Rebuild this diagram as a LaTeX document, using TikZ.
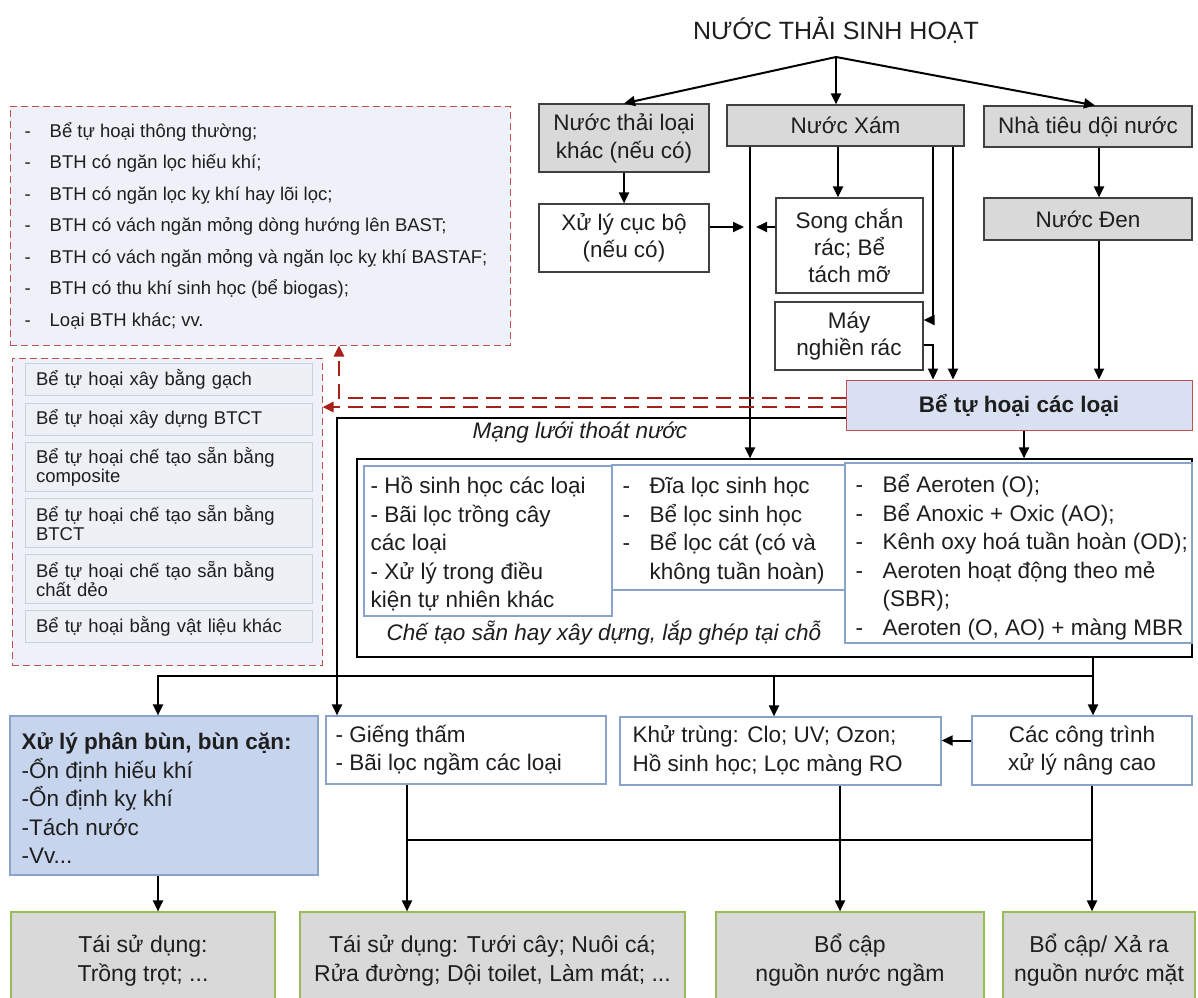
\documentclass[tikz,border=0pt]{standalone}
\usepackage{fontspec}
\setmainfont{Liberation Sans}
\usetikzlibrary{arrows.meta}
\definecolor{txt}{HTML}{1E1E1E}
\definecolor{grayfill}{HTML}{D9D9D9}
\definecolor{grayline}{HTML}{404040}
\definecolor{greenline}{HTML}{9BBB59}
\definecolor{blueline}{HTML}{8AA3C8}
\definecolor{lightblue}{HTML}{D8E0F1}
\definecolor{sludgeblue}{HTML}{C7D4ED}
\definecolor{redline}{HTML}{C0504D}
\definecolor{redarrow}{HTML}{A8201A}
\definecolor{ulfill}{HTML}{EEF1F7}
\definecolor{itemfill}{HTML}{EDF0F5}
\definecolor{itemline}{HTML}{CBD1DA}
\newcommand\fsz[2]{\fontsize{#1}{#2}\selectfont}
\newcommand\dashitem[2]{\makebox[#1][l]{-}#2}
\begin{document}
\begin{tikzpicture}[x=1pt,y=-1pt,
  every node/.style={text=txt, inner sep=0pt},
  arr/.style={draw=black, line width=2pt, -{Triangle[length=11pt,width=10pt]}},
  conn/.style={draw=black, line width=2pt},
  redarr/.style={draw=redarrow, line width=2.5pt, dash pattern=on 15pt off 8pt, -{Triangle[length=11pt,width=10pt]}},
  gbox/.style={draw=grayline, fill=grayfill, line width=1.2pt, align=center, font=\fsz{22.5}{28}},
  wbox/.style={draw=grayline, fill=white, line width=1.2pt, align=center, font=\fsz{22.5}{27}},
  bbox/.style={draw=blueline, fill=white, line width=1.2pt},
  listtext/.style={align=left, font=\fsz{22.5}{28.5}},
  outbox/.style={draw=greenline, fill=grayfill, line width=1.2pt, align=center, font=\fsz{23}{29}},
  dbox/.style={draw=redline, fill=ulfill, line width=1pt, dash pattern=on 7pt off 4pt},
  itembox/.style={draw=itemline, fill=itemfill, line width=0.8pt, align=left, inner xsep=11pt, text width=265pt, font=\fsz{18.5}{18.5}},
]
\path[use as bounding box] (0,0) rectangle (1198,997);
\clip (0,0) rectangle (1198,997);
\fill[white] (0,0) rectangle (1198,997);

% ---------- top ----------
\node[font=\fsz{25}{30}] (title) at (836,30) {NƯỚC THẢI SINH HOẠT};
\coordinate (split) at (836,57);
\node[gbox, minimum width=170pt, minimum height=68pt] (A) at (624,138) {Nước thải loại\\khác (nếu có)};
\node[gbox, minimum width=237pt, minimum height=41pt] (X) at (845.5,125.5) {Nước Xám};
\node[gbox, minimum width=208pt, minimum height=41pt] (N) at (1088,126.5) {Nhà tiêu dội nước};
\node[wbox, minimum width=170pt, minimum height=68pt] (C) at (624,238) {Xử lý cục bộ\\(nếu có)};
\node[wbox, minimum width=147pt, minimum height=95pt] (S) at (849.5,245.5) {Song chắn\\rác; Bể\\tách mỡ};
\node[wbox, minimum width=148pt, minimum height=68pt] (M) at (849,336) {Máy\\nghiền rác};
\node[gbox, minimum width=208pt, minimum height=42pt] (D) at (1088,219) {Nước Đen};
\node[draw=redline, fill=lightblue, line width=1pt, minimum width=346pt, minimum height=50pt, font=\bfseries\fsz{22.5}{27}] (T) at (1019,405) {Bể tự hoại các loại};

% ---------- left dashed boxes ----------
\node[dbox, minimum width=500pt, minimum height=239pt] (UL) at (260,225.5) {};
\node[anchor=west, align=left, font=\fsz{18.5}{31.5}] (ULt) at ([xshift=15pt]UL.west) {%
\dashitem{25pt}{Bể tự hoại thông thường;}\\
\dashitem{25pt}{BTH có ngăn lọc hiếu khí;}\\
\dashitem{25pt}{BTH có ngăn lọc kỵ khí hay lõi lọc;}\\
\dashitem{25pt}{BTH có vách ngăn mỏng dòng hướng lên BAST;}\\
\dashitem{25pt}{BTH có vách ngăn mỏng và ngăn lọc kỵ khí BASTAF;}\\
\dashitem{25pt}{BTH có thu khí sinh học (bể biogas);}\\
\dashitem{25pt}{Loại BTH khác; vv.}};

\node[dbox, minimum width=310pt, minimum height=307pt] (LL) at (167,511.5) {};
\node[itembox, minimum height=32pt] (L1) at (168.5,379) {Bể tự hoại xây bằng gạch};
\node[itembox, minimum height=32pt] (L2) at (168.5,419) {Bể tự hoại xây dựng BTCT};
\node[itembox, minimum height=49pt] (L3) at (168.5,467) {Bể tự hoại chế tạo sẵn bằng\\composite};
\node[itembox, minimum height=49pt] (L4) at (168.5,523) {Bể tự hoại chế tạo sẵn bằng\\BTCT};
\node[itembox, minimum height=49pt] (L5) at (168.5,579) {Bể tự hoại chế tạo sẵn bằng\\chất dẻo};
\node[itembox, minimum height=32pt] (L6) at (168.5,626) {Bể tự hoại bằng vật liệu khác};

% ---------- middle container ----------
\node[font=\itshape\fsz{22.5}{27}] (net) at (580,433) {Mạng lưới thoát nước};
\node[draw=black, fill=white, line width=1.2pt, minimum width=835pt, minimum height=198pt] (K) at (774.5,558) {};
\node[bbox, minimum width=248pt, minimum height=150pt] (K1) at (488,541) {};
\node[bbox, minimum width=233pt, minimum height=125pt] (K2) at (728.5,527.5) {};
\node[bbox, minimum width=347pt, minimum height=180pt] (K3) at (1018.5,553) {};
\node[listtext, anchor=west] (K1t) at ([xshift=7pt,yshift=-3pt]K1.west) {%
- Hồ sinh học các loại\\- Bãi lọc trồng cây\\các loại\\- Xử lý trong điều\\kiện tự nhiên khác};
\node[listtext, anchor=west] (K2t) at ([xshift=11pt,yshift=-3pt]K2.west) {%
\dashitem{27pt}{Đĩa lọc sinh học}\\\dashitem{27pt}{Bể lọc sinh học}\\\dashitem{27pt}{Bể lọc cát (có và}\\\hspace*{27pt}không tuần hoàn)};
\node[listtext, anchor=west] (K3t) at ([xshift=11pt,yshift=-4pt]K3.west) {%
\dashitem{27pt}{Bể Aeroten (O);}\\\dashitem{27pt}{Bể Anoxic + Oxic (AO);}\\\dashitem{27pt}{Kênh oxy hoá tuần hoàn (OD);}\\\dashitem{27pt}{Aeroten hoạt động theo mẻ}\\\hspace*{27pt}(SBR);\\\dashitem{27pt}{Aeroten (O, AO) + màng MBR}};
\node[font=\itshape\fsz{22.5}{27}] (cap) at (604,633) {Chế tạo sẵn hay xây dựng, lắp ghép tại chỗ};

% ---------- lower ----------
\node[draw=blueline, fill=sludgeblue, line width=1.2pt, minimum width=308pt, minimum height=159pt] (P) at (164,795.5) {};
\node[listtext, anchor=west] (Pt) at ([xshift=12pt,yshift=-3pt]P.west) {%
\textbf{Xử lý phân bùn, bùn cặn:}\\-Ổn định hiếu khí\\-Ổn định kỵ khí\\-Tách nước\\-Vv...};
\node[bbox, minimum width=280pt, minimum height=68pt] (G) at (466,750) {};
\node[listtext, anchor=west] (Gt) at ([xshift=10pt]G.west) {- Giếng thấm\\- Bãi lọc ngầm các loại};
\node[bbox, minimum width=321pt, minimum height=68pt] (KT) at (780.5,751) {};
\node[listtext, anchor=west] (KTt) at ([xshift=13pt]KT.west) {Khử trùng: Clo; UV; Ozon;\\Hồ sinh học; Lọc màng RO};
\node[bbox, minimum width=220pt, minimum height=69pt, align=center, font=\fsz{22.5}{28.5}] (CT) at (1082,750.5) {Các công trình\\xử lý nâng cao};

\node[outbox, minimum width=264pt, minimum height=97pt] (B1) at (143,960.5) {Tái sử dụng:\\Trồng trọt; ...};
\node[outbox, minimum width=385pt, minimum height=97pt] (B2) at (492.5,960.5) {Tái sử dụng: Tưới cây; Nuôi cá;\\Rửa đường; Dội toilet, Làm mát; ...};
\node[outbox, minimum width=268pt, minimum height=97pt] (B3) at (850,960.5) {Bổ cập\\nguồn nước ngầm};
\node[outbox, minimum width=192pt, minimum height=97pt] (B4) at (1099,960.5) {Bổ cập/ Xả ra\\nguồn nước mặt};

% ---------- connectors: top ----------
\draw[arr] (split) -- (A.north);
\draw[arr] (split) -- (split |- X.north);
\draw[arr] (split) -- ([xshift=7pt]N.north);
\draw[arr] (A) -- (C);
\coordinate (c1099) at (1099,0);
\draw[arr] (N.south -| c1099) -- (D.north -| c1099);
\draw[arr] (D.south -| c1099) -- (T.north -| c1099);
\coordinate (c750) at (750,0);
\draw[arr] (X.south -| c750) -- (K.north -| c750);
\coordinate (tipL) at (744,227);
\coordinate (tipR) at (756,227);
\draw[arr] (C.east |- tipL) -- (tipL);
\draw[arr] (S.west |- tipR) -- (tipR);
\coordinate (c838) at (838,0);
\draw[arr] (X.south -| c838) -- (S.north -| c838);
\coordinate (c934) at (933,0);
\coordinate (c953) at (953,0);
\draw[arr] (X.south -| c934) |- ([yshift=16pt]M.east);
\draw[arr] ([yshift=-9pt]M.east) -| (T.north -| c934);
\draw[arr] (X.south -| c953) -- (T.north -| c953);
\coordinate (c1024) at (1024,0);
\draw[arr] (T.south -| c1024) -- (K.north -| c1024);

% red dashed and network line
\coordinate (c339) at (339,0);
\coordinate (r1) at ([yshift=7pt]T.west);
\coordinate (r2) at ([yshift=-2pt]T.west);
\coordinate (b1) at ([yshift=-13pt]T.west);
\draw[redarr] (r1) -| (UL.south -| c339);
\draw[redarr] (r2) -- (LL.east |- r2);
\coordinate (c337) at (337,0);
\draw[arr] (b1) -| (G.north -| c337);

% ---------- connectors: bottom ----------
\coordinate (bus) at (0,676);
\coordinate (c1093) at (1093,0);
\coordinate (c774) at (774,0);
\coordinate (c158) at (158,0);
\draw[arr] (K.south -| c1093) -- (CT.north -| c1093);
\draw[arr] (bus -| c1093) -| (P.north -| c158);
\draw[arr] (bus -| c774) -- (KT.north -| c774);
\coordinate (ctin) at ([yshift=10pt]CT.west);
\draw[arr] (ctin) -- (KT.east |- ctin);
\coordinate (bus2) at (0,840);
\coordinate (c407) at (407,0);
\coordinate (c840) at (840,0);
\coordinate (c1092) at (1092,0);
\draw[arr] (G.south -| c407) -- (B2.north -| c407);
\draw[arr] (KT.south -| c840) -- (B3.north -| c840);
\draw[arr] (CT.south -| c1092) -- (B4.north -| c1092);
\draw[line width=2.8pt] (bus2 -| c407) -- (bus2 -| c1092);
\draw[arr] (P.south -| c158) -- (B1.north -| c158);
\end{tikzpicture}
\end{document}
